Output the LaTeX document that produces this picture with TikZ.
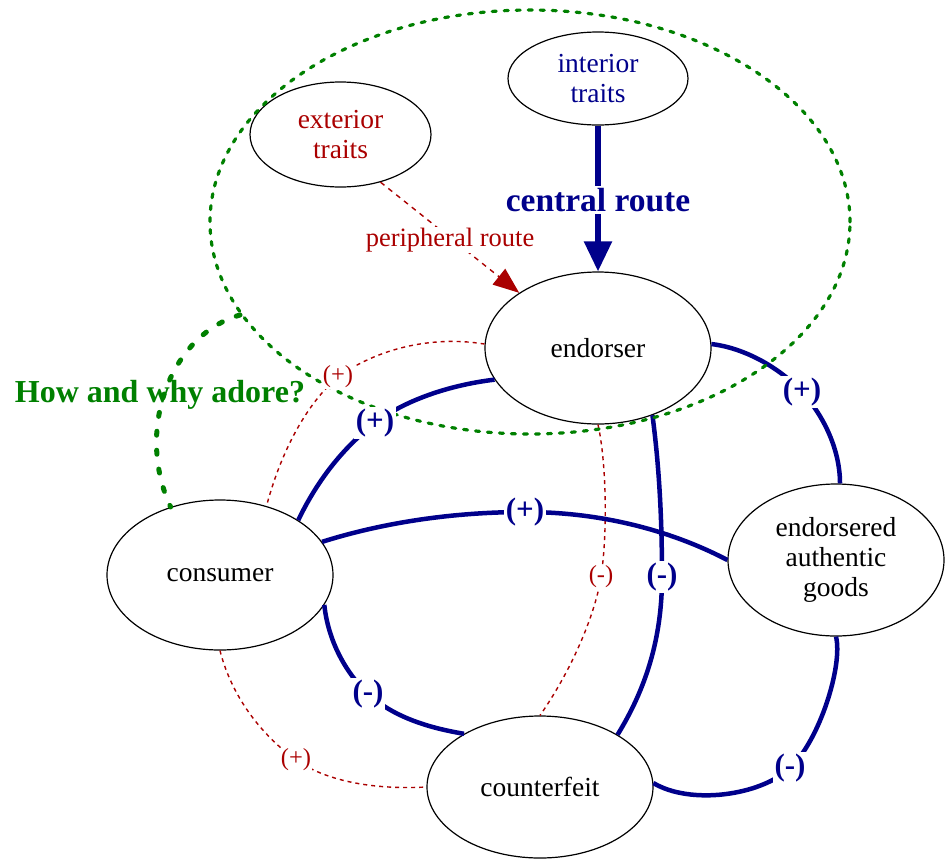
\documentclass[tikz,border=0pt]{standalone}
\usepackage{fontspec}
\setmainfont{Liberation Serif}
\usetikzlibrary{shapes.geometric,arrows.meta}
\definecolor{navyb}{RGB}{0,0,139}
\definecolor{redd}{RGB}{170,0,0}
\definecolor{greend}{RGB}{0,128,0}
\tikzset{
  ent/.style={draw=black, line width=1.2pt, ellipse, inner sep=0pt, align=center,
              font=\fontsize{27.5}{30}\selectfont},
  bluelab/.style={fill=white, inner sep=1.5pt, text=navyb, font=\fontsize{31}{32}\selectfont\bfseries},
  redlab/.style={fill=white, inner sep=1pt, text=redd, font=\fontsize{24.5}{28}\selectfont},
  bluelink/.style={draw=navyb, line width=4.5pt},
  redlink/.style={draw=redd, line width=1.4pt, dash pattern=on 4pt off 4pt},
}
\begin{document}
\begin{tikzpicture}[x=1pt,y=-1pt]
\useasboundingbox (0,0) rectangle (945,860);

% nodes
\node[ent, minimum width=180pt, minimum height=93pt, text=navyb] (interior) at (598,78.5) {interior\\traits};
\node[ent, minimum width=181pt, minimum height=105pt, text=redd] (exterior) at (340.5,134.5) {exterior\\traits};
\node[ent, minimum width=226pt, minimum height=152pt] (endorser) at (598,348) {endorser};
\node[ent, minimum width=226pt, minimum height=150pt] (consumer) at (220,575) {consumer};
\node[ent, minimum width=216pt, minimum height=152pt] (goods) at (836,560) {endorsered\\authentic\\goods};
\node[ent, minimum width=226pt, minimum height=142pt] (counter) at (540,787) {counterfeit};

% label positions
\coordinate (l1) at (802,392);
\coordinate (l2) at (375,423);
\coordinate (l3) at (525,512);
\coordinate (l4) at (662,577);
\coordinate (l5) at (368,694);
\coordinate (l6) at (790,768);
\coordinate (l7) at (338,377);
\coordinate (l8) at (601,577);
\coordinate (l9) at (296,760);

% red dashed links
\draw[redlink] (endorser.178) .. controls (430,335) and (375,350) .. (l7)
               .. controls (305,405) and (280,455) .. (consumer.56);
\draw[redlink] (endorser.270) .. controls (606,460) and (608,530) .. (l8)
               .. controls (596,610) and (575,665) .. (counter.90);
\draw[redlink] (consumer.270) .. controls (230,690) and (255,730) .. (l9)
               .. controls (325,780) and (370,790) .. (counter.180);

% blue links
\draw[bluelink] (endorser.2) .. controls (745,348) and (780,368) .. (l1)
                .. controls (824,416) and (840,450) .. (goods.87);
\draw[bluelink] (endorser.197) .. controls (450,385) and (405,400) .. (l2)
                .. controls (340,450) and (315,485) .. (consumer.35);
\draw[bluelink] (consumer.18.6) .. controls (385,522) and (455,512) .. (l3)
                .. controls (600,512) and (670,530) .. (goods.180);
\draw[bluelink] (endorser.309) .. controls (657,450) and (662,500) .. (l4)
                .. controls (662,640) and (645,690) .. (counter.34.7);
\draw[bluelink] (consumer.-16.7) .. controls (328,640) and (345,672) .. (l5)
                .. controls (395,718) and (430,728) .. (counter.145.5);
\draw[bluelink] (goods.270) .. controls (843,665) and (820,740) .. (l6)
                .. controls (760,796) and (690,805) .. (counter.2);

% routes
\draw[navyb, line width=5.5pt, -{Triangle[length=30pt,width=27pt]}] (interior.270) -- (endorser.90);
\draw[redd, line width=1.4pt, dash pattern=on 5pt off 5pt, -{Triangle[length=26pt,width=20pt]}] (exterior.-50) -- (endorser.145.5);

% green group
\draw[greend, line width=3.2pt, line cap=round, dash pattern=on 4pt off 8pt] (530,222) ellipse [x radius=320pt, y radius=212pt];
\coordinate (gstart) at (240,315);
\draw[greend, line width=5pt, line cap=round, dash pattern=on 4pt off 15pt] (gstart) .. controls (170,335) and (135,430) .. (consumer.126);

% labels
\node[text=greend, font=\fontsize{32}{34}\selectfont\bfseries] (adore) at (160,395) {How and why adore?};
\node[fill=white, inner sep=2pt, text=navyb, font=\fontsize{33.5}{36}\selectfont\bfseries] (central) at (598,200) {central route};
\node[fill=white, inner sep=1pt, text=redd, font=\fontsize{26.5}{28}\selectfont] (periph) at (450,240) {peripheral route};
\node[bluelab] (t1) at (l1) {(+)};
\node[bluelab] (t2) at (l2) {(+)};
\node[bluelab] (t3) at (l3) {(+)};
\node[bluelab] (t4) at (l4) {(-)};
\node[bluelab] (t5) at (l5) {(-)};
\node[bluelab] (t6) at (l6) {(-)};
\node[redlab] (t7) at (l7) {(+)};
\node[redlab] (t8) at (l8) {(-)};
\node[redlab] (t9) at (l9) {(+)};
\end{tikzpicture}
\end{document}
